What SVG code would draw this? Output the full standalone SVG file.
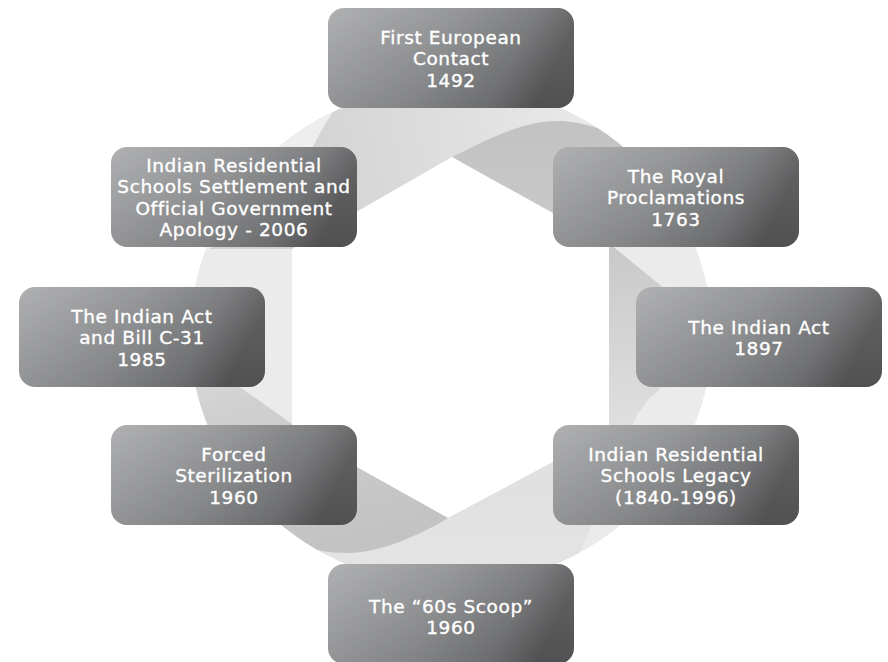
<svg xmlns="http://www.w3.org/2000/svg" width="888" height="662" viewBox="0 0 888 662">
<defs>
<style>
.box{fill:url(#boxg)}
.shade{fill:url(#boxv)}
.lbl{font-family:"DejaVu Sans","Liberation Sans",sans-serif;font-size:18.5px;letter-spacing:0.6px;fill:#ffffff;stroke:#ffffff;stroke-width:0.35px;text-anchor:middle}
</style>
<linearGradient id="boxg" x1="0" y1="0" x2="1" y2="0.2">
<stop offset="0" stop-color="#a9aaac"/>
<stop offset="0.5" stop-color="#8e8f91"/>
<stop offset="0.82" stop-color="#747577"/>
<stop offset="1" stop-color="#58585a"/>
</linearGradient>
<linearGradient id="boxv" x1="0" y1="0" x2="0" y2="1">
<stop offset="0" stop-color="#ffffff" stop-opacity="0.08"/>
<stop offset="1" stop-color="#000000" stop-opacity="0.08"/>
</linearGradient>
<linearGradient id="tlg" gradientUnits="userSpaceOnUse" x1="310" y1="170" x2="600" y2="110">
<stop offset="0" stop-color="#d3d3d3"/>
<stop offset="1" stop-color="#eaeaea"/>
</linearGradient>
<linearGradient id="rbg" gradientUnits="userSpaceOnUse" x1="0" y1="120" x2="0" y2="570">
<stop offset="0" stop-color="#c2c2c2"/>
<stop offset="0.3" stop-color="#cacaca"/>
<stop offset="0.66" stop-color="#dedede"/>
<stop offset="1" stop-color="#e4e4e4"/>
</linearGradient>
<linearGradient id="lbg" gradientUnits="userSpaceOnUse" x1="270" y1="300" x2="330" y2="540">
<stop offset="0" stop-color="#e4e4e4"/>
<stop offset="0.38" stop-color="#d0d0d0"/>
<stop offset="1" stop-color="#c3c3c3"/>
</linearGradient>
<clipPath id="ring">
<path clip-rule="evenodd" d="M190,335 A261,250 0 1,0 712,335 A261,250 0 1,0 190,335 Z M292,249 L452,157 L609,244 L609,432 L448,518 L292,431 Z"/>
</clipPath>
</defs>
<rect width="888" height="662" fill="#ffffff"/>
<g id="connectors" clip-path="url(#ring)">
<rect x="150" y="60" width="600" height="560" fill="#ebebeb"/>
<path fill="url(#tlg)" d="M150,60 L760,60 L760,170 L640,150 C620,135 590,122 560,121 C525,120 490,138 452,157 L292,249 L150,249 Z"/>
<path fill="#eeeeee" d="M348,92 C318,128 302,170 290,200 C250,235 205,245 192,262 L150,262 L150,60 L360,60 Z"/>
<path fill="url(#rbg)" d="M452,157 C490,138 525,120 560,121 C590,122 620,135 640,150 L605,240 L660,285 C700,320 685,370 648,400 L637,415 C615,460 600,500 590,528 C585,542 580,552 575,562 L520,620 L290,620 L270,530 L300,440 L600,440 L600,244 Z"/>
<path fill="url(#lbg)" d="M130,309 L292,424 L300,430 L448,518 C420,535 380,553 347,553 C310,553 280,540 263,525 L120,480 Z"/>
</g>
<g id="n1">
<rect class="box" x="328" y="8" width="246" height="100" rx="16"/>
<rect class="shade" x="328" y="8" width="246" height="100" rx="16"/>
<text class="lbl"><tspan x="451" y="43.5">First European</tspan><tspan x="451" y="65">Contact</tspan><tspan x="451" y="86.5">1492</tspan></text>
</g>
<g id="n2">
<rect class="box" x="111" y="147" width="246" height="100" rx="16"/>
<rect class="shade" x="111" y="147" width="246" height="100" rx="16"/>
<text class="lbl"><tspan x="234" y="171.75">Indian Residential</tspan><tspan x="234" y="193.25">Schools Settlement and</tspan><tspan x="234" y="214.75">Official Government</tspan><tspan x="234" y="236.25">Apology - 2006</tspan></text>
</g>
<g id="n3">
<rect class="box" x="553" y="147" width="246" height="100" rx="16"/>
<rect class="shade" x="553" y="147" width="246" height="100" rx="16"/>
<text class="lbl"><tspan x="676" y="182.5">The Royal</tspan><tspan x="676" y="204">Proclamations</tspan><tspan x="676" y="225.5">1763</tspan></text>
</g>
<g id="n4">
<rect class="box" x="19" y="287" width="246" height="100" rx="16"/>
<rect class="shade" x="19" y="287" width="246" height="100" rx="16"/>
<text class="lbl"><tspan x="142" y="322.5">The Indian Act</tspan><tspan x="142" y="344">and Bill C-31</tspan><tspan x="142" y="365.5">1985</tspan></text>
</g>
<g id="n5">
<rect class="box" x="636" y="287" width="246" height="100" rx="16"/>
<rect class="shade" x="636" y="287" width="246" height="100" rx="16"/>
<text class="lbl"><tspan x="759" y="333.75">The Indian Act</tspan><tspan x="759" y="355.25">1897</tspan></text>
</g>
<g id="n6">
<rect class="box" x="111" y="425" width="246" height="100" rx="16"/>
<rect class="shade" x="111" y="425" width="246" height="100" rx="16"/>
<text class="lbl"><tspan x="234" y="460.5">Forced</tspan><tspan x="234" y="482">Sterilization</tspan><tspan x="234" y="503.5">1960</tspan></text>
</g>
<g id="n7">
<rect class="box" x="553" y="425" width="246" height="100" rx="16"/>
<rect class="shade" x="553" y="425" width="246" height="100" rx="16"/>
<text class="lbl"><tspan x="676" y="460.5">Indian Residential</tspan><tspan x="676" y="482">Schools Legacy</tspan><tspan x="676" y="503.5">(1840-1996)</tspan></text>
</g>
<g id="n8">
<rect class="box" x="328" y="564" width="246" height="100" rx="16"/>
<rect class="shade" x="328" y="564" width="246" height="100" rx="16"/>
<text class="lbl"><tspan x="451" y="612.5">The “60s Scoop”</tspan><tspan x="451" y="634">1960</tspan></text>
</g>
</svg>
